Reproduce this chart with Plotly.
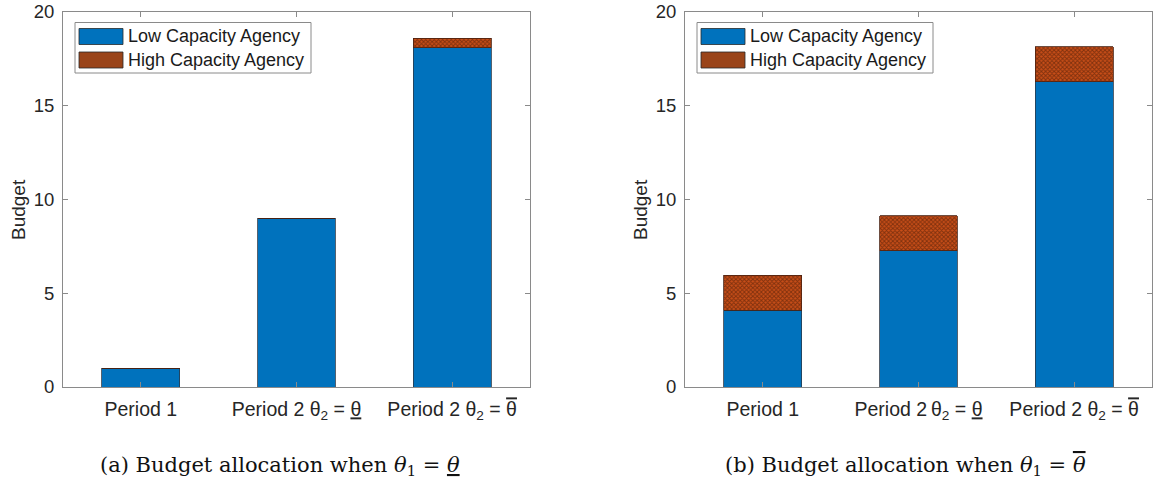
import plotly.graph_objects as go

# Budget split between agencies, per period / state
UL = '<span style="text-decoration:underline">θ</span>'
OL = '<span style="text-decoration:overline">θ</span>'
periods_a = ["Period 1", "Period 2 θ<sub>2</sub> = " + UL, "Period 2 θ<sub>2</sub> = " + OL]
periods_b = ["Period 1", "Period 2\u2009θ<sub>2</sub> = " + UL, "Period 2 θ<sub>2</sub> = " + OL]
low_a = [1.0, 9.0, 18.1]
high_a = [0.0, 0.0, 0.5]
low_b = [4.1, 7.27, 16.27]
high_b = [1.87, 1.87, 1.87]
series_names = ["Low Capacity Agency", "High Capacity Agency"]
y_ticks = [0, 5, 10, 15, 20]
y_title = "Budget"
captions = ['(a) Budget allocation when <i>θ</i><sub>1</sub> = <span style="text-decoration:underline"><i>θ</i></span>',
            '(b) Budget allocation when <i>θ</i><sub>1</sub> = <span style="text-decoration:overline"><i>θ</i></span>']

W, H = 1159, 487
BLUE = "#0072BD"
ORANGE = "#C84E18"
AXIS = "#8a8a8a"
FONT = "Liberation Sans, Arial, sans-serif"


def px(x):
    return x / W


def py(y):
    return 1 - y / H


fig = go.Figure()
xs = [0, 1, 2]
for idx, (low, high) in enumerate([(low_a, high_a), (low_b, high_b)]):
    xa = "x" if idx == 0 else "x2"
    ya = "y" if idx == 0 else "y2"
    fig.add_trace(go.Bar(
        x=xs, y=low, width=0.5, name=series_names[0], xaxis=xa, yaxis=ya,
        marker=dict(color=BLUE, line=dict(color="#2a3a4a", width=0.8)),
        showlegend=False))
    fig.add_trace(go.Bar(
        x=xs, y=high, width=0.5, name=series_names[1], xaxis=xa, yaxis=ya,
        marker=dict(color=ORANGE, line=dict(color="#4a2010", width=0.8),
                    pattern=dict(shape="x", fgcolor="#3a1505", bgcolor=ORANGE,
                                 size=3, solidity=0.55)),
        showlegend=False))

# panel geometry in pixels
panels = [(63, 530), (685, 1152)]
top, bottom = 12, 387

axis_common = dict(showline=True, mirror="ticks", linecolor=AXIS, linewidth=1,
                   ticks="inside", ticklen=5, tickcolor=AXIS, showgrid=False,
                   zeroline=False, automargin=False)
xfont = dict(family=FONT, size=19.5, color="#262626")
yfont = dict(family=FONT, size=18.5, color="#262626")
title_font = dict(family=FONT, size=19, color="#262626")

fig.update_layout(
    width=W, height=H, margin=dict(l=0, r=0, t=0, b=0, autoexpand=False),
    paper_bgcolor="white", plot_bgcolor="white", barmode="stack",
    showlegend=False,
    xaxis=dict(domain=[px(panels[0][0]), px(panels[0][1])], range=[-0.5, 2.5],
               tickvals=xs, ticktext=periods_a, anchor="y", ticklabelstandoff=5,
               tickfont=xfont, **axis_common),
    yaxis=dict(domain=[py(bottom), py(top)], range=[0, 20], tickvals=y_ticks,
               anchor="x", ticklabelstandoff=4, tickfont=yfont, **axis_common),
    xaxis2=dict(domain=[px(panels[1][0]), px(panels[1][1])], range=[-0.5, 2.5],
                tickvals=xs, ticktext=periods_b, anchor="y2", ticklabelstandoff=5,
                tickfont=xfont, **axis_common),
    yaxis2=dict(domain=[py(bottom), py(top)], range=[0, 20], tickvals=y_ticks,
                anchor="x2", ticklabelstandoff=4, tickfont=yfont, **axis_common),
)

# legend boxes, y titles and captions for each panel
swatch_colors = [BLUE, "#9a4419"]
for (x0, x1), cap, cx in zip(panels, captions, [280, 905]):
    fig.add_annotation(xref="paper", yref="paper", x=px(x0 - 45), y=py(210),
                       text=y_title, textangle=-90, showarrow=False,
                       xanchor="center", yanchor="middle", font=title_font)
    lx0 = x0 + 12
    lx1 = lx0 + 236
    fig.add_shape(type="rect", xref="paper", yref="paper",
                  x0=px(lx0), x1=px(lx1), y0=py(73), y1=py(22.5),
                  line=dict(color=AXIS, width=1), fillcolor="white")
    for k, name in enumerate(series_names):
        sy0 = 28.5 + k * 23.5
        fig.add_shape(type="rect", xref="paper", yref="paper",
                      x0=px(lx0 + 4), x1=px(lx0 + 48), y0=py(sy0 + 16), y1=py(sy0),
                      line=dict(color="#2a2a2a", width=0.8), fillcolor=swatch_colors[k])
        fig.add_annotation(xref="paper", yref="paper", x=px(lx0 + 51), y=py(sy0 + 8),
                           text=name, showarrow=False, xanchor="left", yanchor="middle",
                           font=dict(family=FONT, size=18, color="#1a1a1a"))
    fig.add_annotation(xref="paper", yref="paper", x=px(cx), y=py(466),
                       text=cap, showarrow=False, xanchor="center", yanchor="middle",
                       font=dict(family="DejaVu Serif, serif", size=21, color="#111111"))

fig.write_html("out.html")
